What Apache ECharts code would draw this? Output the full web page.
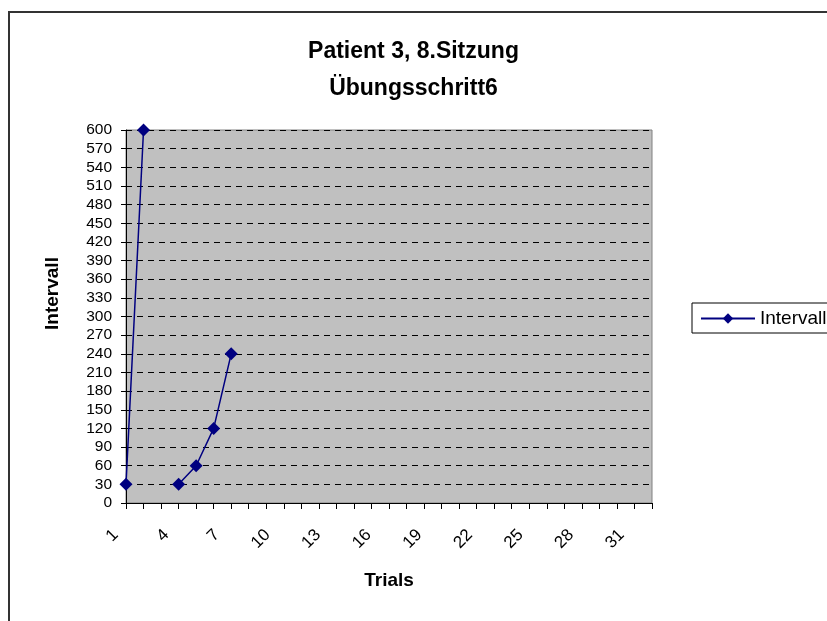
<!DOCTYPE html>
<html>
<head>
<meta charset="utf-8">
<script src="https://cdn.jsdelivr.net/npm/echarts@6/dist/echarts.min.js"></script>
<style>html,body{margin:0;padding:0;background:#fff}#c{width:827px;height:621px}</style>
</head>
<body>
<div id="c"></div>
<script>
var titleText = 'Patient 3, 8.Sitzung\nÜbungsschritt6';
var xName = 'Trials';
var yName = 'Intervall';
var seriesName = 'Intervall';
var categories = [];
for (var i = 1; i <= 31; i++) categories.push(String(i));
var intervallValues = [30, 600, null, 30, 60, 120, 240, null, null, null, null, null, null, null, null, null, null, null, null, null, null, null, null, null, null, null, null, null, null, null, null];
var yMin = 0, yMax = 600, yStep = 30;

var chart = echarts.init(document.getElementById('c'), null, {renderer: 'canvas'});
var font = 'Liberation Sans, Arial, sans-serif';
chart.setOption({
  animation: false,
  backgroundColor: '#ffffff',
  title: {
    text: titleText,
    left: 'center',
    top: 28,
    textStyle: {fontFamily: font, fontSize: 23, fontWeight: 'bold', color: '#000', lineHeight: 37}
  },
  graphic: [{
    type: 'rect',
    shape: {x: 9, y: 12, width: 900, height: 700},
    style: {fill: 'none', stroke: '#333', lineWidth: 2},
    silent: true
  }],
  legend: {
    left: 692,
    top: 303,
    orient: 'vertical',
    padding: [6, 8, 5, 8],
    borderColor: '#000',
    borderWidth: 1,
    itemWidth: 54,
    itemHeight: 13,
    itemGap: 4,
    textStyle: {fontFamily: font, fontSize: 19, color: '#000'},
    data: [seriesName]
  },
  grid: [{
    left: 126, right: 175, top: 130, bottom: 118,
    show: true, backgroundColor: '#C0C0C0', borderColor: '#808080', borderWidth: 1,
    containLabel: false
  }, {
    left: 132, right: 189, top: 130, bottom: 118,
    show: false, containLabel: false
  }],
  xAxis: [{
    type: 'category',
    gridIndex: 0,
    data: categories,
    boundaryGap: false,
    name: xName,
    nameLocation: 'middle',
    nameGap: 68,
    nameTextStyle: {fontFamily: font, fontSize: 19, fontWeight: 'bold', color: '#000'},
    axisLine: {lineStyle: {color: '#000', width: 1}},
    axisTick: {show: true, interval: 0, length: 6, lineStyle: {color: '#000'}},
    axisLabel: {show: false},
    splitLine: {show: false}
  }, {
    type: 'category',
    gridIndex: 1,
    data: categories,
    boundaryGap: false,
    axisLine: {show: false},
    axisTick: {show: false},
    axisLabel: {interval: 2, rotate: 45, margin: 13, padding: [0, 23, 0, 0], fontFamily: font, fontSize: 17, color: '#000'},
    splitLine: {show: false}
  }],
  yAxis: [{
    type: 'value',
    gridIndex: 0,
    min: yMin, max: yMax, interval: yStep,
    name: yName,
    nameLocation: 'middle',
    nameGap: 64,
    nameRotate: 90,
    nameTextStyle: {fontFamily: font, fontSize: 19, fontWeight: 'bold', color: '#000', padding: [0, 0, 0, 46]},
    axisLine: {show: true, lineStyle: {color: '#000', width: 1}},
    axisTick: {show: true, length: 5, lineStyle: {color: '#000'}},
    axisLabel: {margin: 14, fontFamily: font, fontSize: 15.5, color: '#000'},
    splitLine: {show: true, lineStyle: {color: '#000', width: 1, type: [6, 5]}}
  }, {
    type: 'value',
    gridIndex: 1,
    min: yMin, max: yMax, interval: yStep,
    show: false
  }],
  series: [{
    name: seriesName,
    type: 'line',
    xAxisIndex: 0,
    yAxisIndex: 0,
    data: intervallValues,
    connectNulls: false,
    symbol: 'diamond',
    symbolSize: 13,
    showAllSymbol: true,
    lineStyle: {color: '#000080', width: 1.5},
    itemStyle: {color: '#000080'}
  }]
});
</script>
</body>
</html>
